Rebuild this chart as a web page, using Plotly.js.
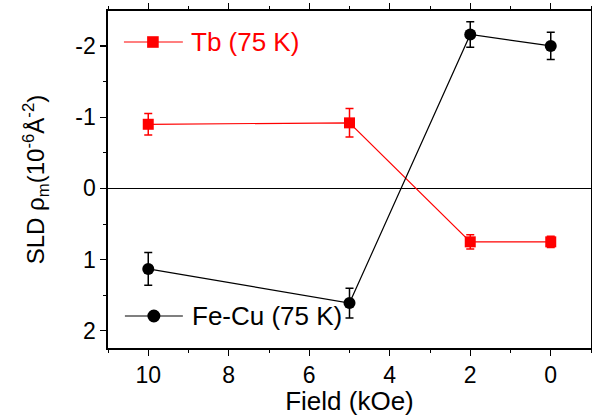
<!DOCTYPE html>
<html>
<head>
<meta charset="utf-8">
<script src="https://cdn.plot.ly/plotly-3.0.1.min.js"></script>
<style>html,body{margin:0;padding:0;background:#fff;}#chart{width:592px;height:416px;}</style>
</head>
<body>
<div id="chart"></div>
<script>
const fieldValues = [10, 5, 2, 0];
const tbValues = [-0.90, -0.92, 0.75, 0.75];
const tbErrors = [0.15, 0.20, 0.10, 0.08];
const fecuValues = [1.13, 1.61, -2.16, -2.00];
const fecuErrors = [0.23, 0.21, 0.18, 0.19];
const seriesNames = ['Tb (75 K)', 'Fe-Cu (75 K)'];
const xTickVals = [10, 8, 6, 4, 2, 0];
const xTickText = ['10', '8', '6', '4', '2', '0'];
const yTickVals = [-2, -1, 0, 1, 2];
const yTickText = ['-2', '-1', '0', '1', '2'];

const FONT = 'Liberation Sans, Arial, sans-serif';
const RED = '#ff0000', BLACK = '#000000';

const traces = [
  {
    x: fieldValues, y: tbValues, name: seriesNames[0], type: 'scatter', mode: 'lines+markers',
    line: {color: RED, width: 1.2},
    marker: {symbol: 'square', size: 11, color: RED},
    error_y: {type: 'data', array: tbErrors, visible: true, color: RED, thickness: 1.5, width: 4}
  },
  {
    x: fieldValues, y: fecuValues, name: seriesNames[1], type: 'scatter', mode: 'lines+markers',
    line: {color: BLACK, width: 1.2},
    marker: {symbol: 'circle', size: 12, color: BLACK},
    error_y: {type: 'data', array: fecuErrors, visible: true, color: BLACK, thickness: 1.5, width: 4}
  }
];

const axisCommon = {
  showline: true, linecolor: '#000', linewidth: 1.6, mirror: 'ticks',
  ticks: 'outside', ticklen: 6, tickwidth: 1.2, tickcolor: '#000',
  showgrid: false,
  tickfont: {family: FONT, size: 23, color: '#000'}
};

// hand-made legend (line, marker, label) placed in paper coordinates
const legendItems = [
  {name: seriesNames[0], color: RED, shape: 'rect', half: 5.8, y: 0.908, x0: 0.033, xm: 0.093, x1: 0.155, xt: 0.168},
  {name: seriesNames[1], color: BLACK, shape: 'circle', half: 6.5, y: 0.095, x0: 0.035, xm: 0.095, x1: 0.155, xt: 0.170}
];
const shapes = [];
const annotations = [];
legendItems.forEach(it => {
  shapes.push({type: 'line', xref: 'paper', yref: 'paper', x0: it.x0, x1: it.x1, y0: it.y, y1: it.y,
               line: {color: it.color, width: 1.2}});
  shapes.push({type: it.shape, xref: 'paper', yref: 'paper',
               xsizemode: 'pixel', ysizemode: 'pixel', xanchor: it.xm, yanchor: it.y,
               x0: -it.half, x1: it.half, y0: -it.half, y1: it.half,
               fillcolor: it.color, line: {color: it.color, width: 0}});
  annotations.push({text: it.name, xref: 'paper', yref: 'paper', x: it.xt, y: it.y,
                    xanchor: 'left', yanchor: 'middle', showarrow: false,
                    font: {family: FONT, size: 26, color: it.color}});
});

const layout = {
  width: 592, height: 416,
  margin: {l: 108, r: 1, t: 11, b: 68},
  paper_bgcolor: '#fff', plot_bgcolor: '#fff',
  showlegend: false,
  shapes: shapes,
  annotations: annotations,
  xaxis: Object.assign({}, axisCommon, {
    range: [11, -1], tickvals: xTickVals, ticktext: xTickText, zeroline: false,
    minor: {ticks: 'outside', ticklen: 3, tickwidth: 1, tickcolor: '#000', dtick: 1},
    title: {text: 'Field (kOe)', font: {family: FONT, size: 26, color: '#000'}, standoff: 0}
  }),
  yaxis: Object.assign({}, axisCommon, {
    range: [2.24, -2.49], tickvals: yTickVals, ticktext: yTickText,
    zeroline: true, zerolinecolor: '#000', zerolinewidth: 1.5,
    minor: {ticks: 'outside', ticklen: 3, tickwidth: 1, tickcolor: '#000', dtick: 0.5},
    title: {text: 'SLD ρ<sub>m</sub>(10<sup>-6</sup>Å<sup>-2</sup>)', font: {family: FONT, size: 24, color: '#000'}, standoff: 24}
  })
};

Plotly.newPlot('chart', traces, layout, {displayModeBar: false, staticPlot: true});
</script>
</body>
</html>
